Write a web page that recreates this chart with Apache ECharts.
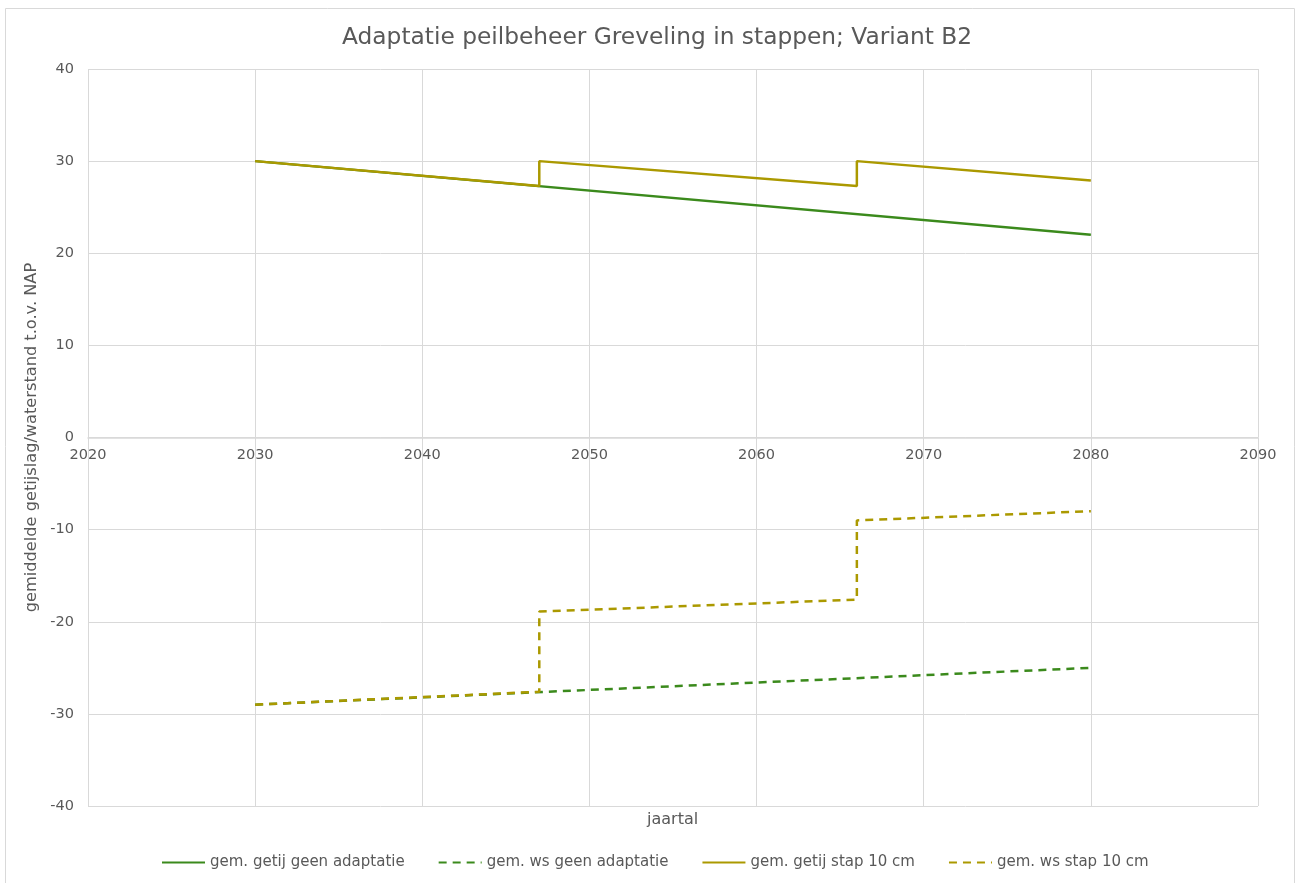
<!DOCTYPE html>
<html><head><meta charset="utf-8">
<script src="https://cdn.jsdelivr.net/npm/echarts@6/dist/echarts.min.js"></script>
<style>html,body{margin:0;padding:0;background:#fff}#c{width:1296px;height:883px}</style>
</head><body><div id="c"></div>
<script>
const seriesNames = ['gem. getij geen adaptatie','gem. ws geen adaptatie','gem. getij stap 10 cm','gem. ws stap 10 cm'];
const getijGeen = [[2030,30],[2080,22]];
const wsGeen = [[2030,-29],[2080,-25]];
const getijStap = [[2030,30],[2047,27.3],[2047,30],[2066,27.3],[2066,30],[2080,27.9]];
const wsStap = [[2030,-29],[2047,-27.6],[2047,-18.9],[2066,-17.6],[2066,-9],[2080,-8]];
const xTicks = {min:2020,max:2090,interval:10};
const yTicks = {min:-40,max:40,interval:10};
const green = '#3B8A1C', olive = '#AB9900';
const font = '"DejaVu Sans", Verdana, sans-serif';
const gridTop = 69, gridBottom = 77, H = 883;
const chart = echarts.init(document.getElementById('c'));
function ser(name,data,color,dashed){
  return {name,type:'line',data,showSymbol:false,symbol:'none',
    lineStyle:{color,width:2.5,type:dashed?[8,6]:'solid'},itemStyle:{color},animation:false};
}
chart.setOption({
  animation:false,
  textStyle:{fontFamily:font},
  title:{text:'Adaptatie peilbeheer Greveling in stappen; Variant B2',left:337,top:21,
    textStyle:{fontFamily:font,fontSize:23.3,fontWeight:'normal',color:'#595959'}},
  grid:{left:88,right:38,top:gridTop,bottom:gridBottom},
  legend:{bottom:8,left:156,itemWidth:43,itemHeight:10,itemGap:33,
    itemStyle:{opacity:0},
    textStyle:{fontFamily:font,fontSize:15,color:'#595959'},
    data:seriesNames},
  xAxis:{type:'value',min:xTicks.min,max:xTicks.max,interval:xTicks.interval,position:'bottom',
    offset:-(H-gridTop-gridBottom)/2,
    axisLine:{onZero:false,lineStyle:{color:'#d9d9d9',width:1.5}},axisTick:{show:false},
    axisLabel:{color:'#595959',fontSize:14.5,fontFamily:font,margin:10,formatter:v=>String(v)},
    splitLine:{show:true,lineStyle:{color:'#d9d9d9',width:1}}},
  yAxis:{type:'value',min:yTicks.min,max:yTicks.max,interval:yTicks.interval,
    axisLine:{show:false},axisTick:{show:false},
    axisLabel:{color:'#595959',fontSize:14.5,fontFamily:font,margin:14},
    splitLine:{show:true,lineStyle:{color:'#d9d9d9',width:1}},
    name:'gemiddelde getijslag/waterstand t.o.v. NAP',nameLocation:'middle',nameGap:37,
    nameTextStyle:{color:'#595959',fontSize:16.2,fontFamily:font}},
  graphic:[
    {type:'rect',shape:{x:5.5,y:8.5,width:1289,height:880},style:{fill:'none',stroke:'#d9d9d9',lineWidth:1},silent:true},
    {type:'text',left:647,top:812,style:{text:'jaartal',fill:'#595959',font:'16px '+font}}
  ],
  series:[
    ser(seriesNames[0],getijGeen,green,false),
    ser(seriesNames[1],wsGeen,green,true),
    ser(seriesNames[2],getijStap,olive,false),
    ser(seriesNames[3],wsStap,olive,true)
  ]
});
</script></body></html>
